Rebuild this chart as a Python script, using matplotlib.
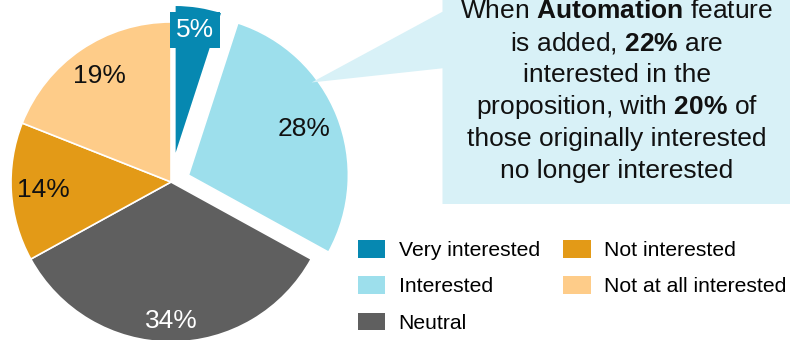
import numpy as np
import matplotlib
matplotlib.use("Agg")
import matplotlib.pyplot as plt
from matplotlib.patches import Polygon, Patch

plt.rcParams["font.family"] = ["Liberation Sans", "DejaVu Sans"]
plt.rcParams["mathtext.fontset"] = "custom"
plt.rcParams["mathtext.rm"] = "Liberation Sans"
plt.rcParams["mathtext.bf"] = "Liberation Sans:bold"

# Survey responses (share of respondents, %)
categories = ["Very interested", "Interested", "Neutral", "Not interested", "Not at all interested"]
shares = [5, 28, 34, 14, 19]
value_labels = ["5%", "28%", "34%", "14%", "19%"]

callout_lines = [
    r"When $\mathbf{Automation}$ feature",
    r"is added, $\mathbf{22\%}$ are",
    "interested in the",
    r"proposition, with $\mathbf{20\%}$ of",
    "those originally interested",
    "no longer interested",
]

colors = ["#0688B1", "#9DDFEC", "#5F5F5F", "#E39A17", "#FECC89"]
label_colors = ["white", "#111111", "white", "#111111", "#111111"]
explode_frac = [0.152, 0.117, 0, 0, 0]
label_dist = [0.81, 0.775, 0.87, 0.80, 0.80]

W, H = 790, 340
fig = plt.figure(figsize=(W / 100, H / 100), dpi=100)
ax = fig.add_axes([0, 0, 1, 1])

R = 160
cx, cy = 171, H - 182
wedges, _ = ax.pie(shares, colors=colors, startangle=90, counterclock=False,
                   explode=[e * R for e in explode_frac], radius=R, center=(cx, cy),
                   wedgeprops=dict(edgecolor="white", linewidth=1.2))
wedges[0].set_radius(R * 0.955)

for i, (w, lab, col, d) in enumerate(zip(wedges, value_labels, label_colors, label_dist)):
    ang = np.deg2rad((w.theta1 + w.theta2) / 2)
    wx, wy = w.center
    tx = wx + d * R * np.cos(ang)
    ty = wy + d * R * np.sin(ang)
    kw = {}
    if i == 0:
        kw["bbox"] = dict(boxstyle="square,pad=0.22", facecolor=w.get_facecolor(), edgecolor="none")
    ax.text(tx, ty, lab, ha="center", va="center", fontsize=19, color=col, zorder=5, **kw)

# Callout box with pointer toward the "Interested" slice
bx0, btop, bbot = 442.5, H - 0, H - 204
callout = Polygon([(bx0, btop), (W + 5, btop), (W + 5, bbot), (bx0, bbot),
                   (bx0, H - 68.3), (311.5, H - 82.5), (bx0, H - 11.7)],
                  closed=True, facecolor="#D8F1F7", edgecolor="none", zorder=4)
ax.add_patch(callout)

text_x = 617
for i, line in enumerate(callout_lines):
    ax.text(text_x, H - 18.3 - 32 * i, line, ha="center", va="baseline",
            fontsize=19, color="#111111", zorder=6)

ax.set_xlim(0, W)
ax.set_ylim(0, H)
ax.set_aspect("equal")
ax.axis("off")

handles = [Patch(facecolor=c, edgecolor="none") for c in colors]
fig.legend(handles, categories, ncol=2, loc="upper left",
           bbox_to_anchor=(358 / W, 1 - 240 / H), frameon=False, fontsize=15.2,
           handlelength=1.3, handleheight=0.9, handletextpad=0.62,
           columnspacing=1.12, labelspacing=0.77, borderpad=0, borderaxespad=0)

fig.savefig("out.png", dpi=100)
